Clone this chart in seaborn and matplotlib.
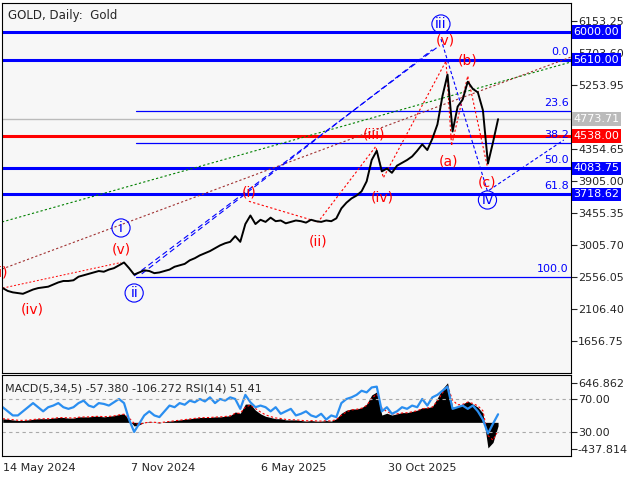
import matplotlib
matplotlib.use("Agg")
import matplotlib.pyplot as plt
import seaborn as sns
import pandas as pd
import numpy as np

sns.set_style("white")
plt.rcParams['font.family'] = ['DejaVu Sans']

price = [2400,2360,2340,2330,2320,2350,2380,2400,2410,2420,
         2450,2480,2500,2500,2510,2560,2580,2600,2620,2640,
         2630,2660,2680,2720,2760,2680,2590,2620,2650,2640,
         2610,2620,2640,2660,2700,2720,2740,2790,2820,2860,
         2890,2920,2960,3000,3030,3050,3130,3050,3300,3420,
         3300,3360,3330,3390,3340,3350,3310,3330,3350,3340,
         3320,3360,3340,3330,3350,3340,3380,3520,3600,3660,
         3700,3760,3900,4200,4330,4040,4080,4020,4120,4160,
         4200,4250,4330,4420,4340,4500,4700,5100,5400,4600,
         4950,5050,5300,5200,5150,4900,4150,4450,4773.71]
macd = [60,50,40,30,30,40,50,60,60,60,
        70,80,80,70,70,90,90,90,100,100,
        90,100,110,130,140,40,-60,
        -40,0,10,0,-10,10,20,30,40,50,
        60,70,80,80,80,90,90,100,110,170,
        150,300,300,200,140,100,80,60,60,40,
        40,40,30,20,30,20,20,30,20,60,
        150,200,220,220,240,300,450,500,120,150,
        120,140,160,160,180,200,240,240,260,400,
        550,650,250,250,300,350,300,250,150,-420,-330,-57.38]
rsi = [60,55,50,50,55,60,65,60,55,60,
       62,65,60,58,60,65,68,62,60,65,
       64,62,66,70,65,45,30,
       40,50,55,50,48,55,62,60,65,63,
       68,66,70,67,72,65,70,68,72,70,
       58,75,66,60,62,60,55,60,52,55,
       58,50,52,55,50,48,52,45,50,48,
       65,70,72,75,80,78,84,85,55,60,
       52,55,60,58,62,60,70,62,72,75,
       80,85,58,60,62,58,62,55,45,28,40,51.41]

start = pd.Timestamp("2024-05-14")
dates = pd.date_range(start, periods=len(price), freq="7D")
df = pd.DataFrame({"date": dates, "price": price, "macd": macd, "rsi": rsi})

def wd(w):
    return start + pd.Timedelta(days=7 * w)

levels = [6000.00, 5610.00, 4538.00, 4083.75, 3718.62]
level_colors = ["#0000ff", "#0000ff", "#ff0000", "#0000ff", "#0000ff"]
last_price = 4773.71
fib_hi, fib_lo = 5610.0, 2556.05
fib_pcts = [0.0, 23.6, 38.2, 50.0, 61.8, 100.0]
yticks = [6153.25, 5703.60, 5253.95, 4354.65, 3905.00, 3455.35, 3005.70, 2556.05, 2106.40, 1656.75]
xtick_dates = ["2024-05-14", "2024-11-07", "2025-05-06", "2025-10-30"]
xtick_labels = ["14 May 2024", "7 Nov 2024", "6 May 2025", "30 Oct 2025"]

circ_labels = [("i", 23.4, 3245), ("ii", 26, 2331), ("iii", 86.7, 6111), ("iv", 95.9, 3638)]
red_labels = [("(iii)", -1.2, 2626), ("(iv)", 5.8, 2093), ("(v)", 23.4, 2936), ("(i)", 48.7, 3750),
              ("(ii)", 62.4, 3048), ("(iii)", 73.5, 4552), ("(iv)", 75, 3666), ("(v)", 87.5, 5886),
              ("(a)", 88.2, 4172), ("(b)", 92, 5605), ("(c)", 95.9, 3877)]

fig = plt.figure(figsize=(6.4, 4.8), dpi=100)
ax = fig.add_axes([2/640, 1-373/480, 569/640, 370/480])
ax2 = fig.add_axes([2/640, 1-456/480, 569/640, 81/480])
bg = "#f7f7f7"
for a in (ax, ax2):
    a.set_facecolor(bg)
    for s in a.spines.values():
        s.set_color("black"); s.set_linewidth(0.8)

xl = (start - pd.Timedelta(days=1), start + pd.Timedelta(days=787))
ax.set_xlim(xl); ax2.set_xlim(xl)
ax.set_ylim(1207, 6406)

for lv, c in zip(levels, level_colors):
    ax.axhline(lv, color=c, lw=2.2, zorder=2)
ax.axhline(last_price, color="#bbbbbb", lw=1, zorder=1)
for p in fib_pcts:
    val = fib_hi - p / 100 * (fib_hi - fib_lo)
    ax.plot([wd(26.3), xl[1]], [val, val], color="#0000ff", lw=0.9, zorder=2)
    ax.text(xl[1] - pd.Timedelta(days=3), val + 40, f"{p:.1f}", color="#0000ff",
            fontsize=8, ha="right", va="bottom")

ax.plot([xl[0], xl[1]], [3329, 5577], color="green", ls=(0, (2, 2)), lw=0.8)
ax.plot([xl[0], xl[1]], [2668, 5647], color="#a03030", ls=(0, (2, 2)), lw=0.8)
ax.plot([wd(26), wd(86.3)], [2570, 5802], color="#0000ff", ls=(0, (5, 3)), lw=0.8)
ax.plot([wd(27.5), wd(85)], [2600, 5750], color="#0000ff", ls=(0, (5, 3)), lw=0.8)
ax.plot([wd(86.7), wd(95.9), wd(111)], [5900, 3760, 4481], color="#0000ff", ls=(0, (3, 2)), lw=0.8)
ax.plot([wd(48.7), wd(62.4), wd(73.8), wd(75.3), wd(87.7), wd(88.8), wd(92), wd(95.9)],
        [3620, 3330, 4390, 3950, 5590, 4400, 5380, 4100], color="red", ls=(0, (2, 2)), lw=0.8)
ax.plot([wd(0), wd(23.4)], [2400, 2760], color="red", ls=(0, (2, 2)), lw=0.7)

sns.lineplot(data=df, x="date", y="price", ax=ax, color="black", lw=1.4, zorder=5)
ax.set_xlabel(""); ax.set_ylabel("")

for t, w, p in circ_labels:
    ax.text(wd(w), p, t, color="#0000ff", fontsize=10, ha="center", va="center",
            bbox=dict(boxstyle="circle,pad=0.15", fc="none", ec="#0000ff", lw=0.8), zorder=6)
for t, w, p in red_labels:
    ax.text(wd(w), p, t, color="red", fontsize=10, ha="center", va="center", zorder=6)

ax.text(0.01, 0.985, "GOLD, Daily:  Gold", transform=ax.transAxes, fontsize=8.5, va="top")

ax.yaxis.tick_right()
ax.set_yticks(yticks)
ax.set_yticklabels([f"{v:.2f}" for v in yticks], fontsize=8)
ax.tick_params(axis="y", length=4, pad=1)
ax.set_xticks([])

tr = ax.get_yaxis_transform()
for lv, c in zip(levels + [last_price], level_colors + ["#bbbbbb"]):
    ax.text(1.004, lv, f"{lv:.2f}", transform=tr, fontsize=8, color="white", va="center",
            ha="left", bbox=dict(boxstyle="square,pad=0.15", fc=c, ec="none"), zorder=10,
            clip_on=False)

ax2.set_ylim(-553, 778)
ax2.fill_between(df["date"], 0, df["macd"], color="black", lw=0)
sig = df["macd"].ewm(span=2).mean()
ax2.plot(df["date"], sig, color="red", ls=(0, (2, 2)), lw=0.8)
rsi_m = (np.array(rsi) - 30) / 40 * (384 + 157) - 157
ax2.plot(df["date"], rsi_m, color="#2a8ef0", lw=1.6)
ax2.axhline(384, color="#aaaaaa", ls=(0, (3, 3)), lw=0.8)
ax2.axhline(-157, color="#aaaaaa", ls=(0, (3, 3)), lw=0.8)
ax2.yaxis.tick_right()
ax2.set_yticks([646.862, 384, -157, -437.814])
ax2.set_yticklabels(["646.862", "70.00", "30.00", "-437.814"], fontsize=8)
ax2.tick_params(axis="y", length=4, pad=1)
ax2.text(0.005, 0.9, "MACD(5,34,5) -57.380 -106.272 RSI(14) 51.41", transform=ax2.transAxes,
         fontsize=8, va="top")
ax2.set_xticks(pd.to_datetime(xtick_dates))
ax2.set_xticklabels(xtick_labels, fontsize=8, ha="left")
ax2.tick_params(axis="x", length=4, pad=1)
ax2.set_xlabel("")

fig.savefig("out.png", dpi=100, facecolor="white")
